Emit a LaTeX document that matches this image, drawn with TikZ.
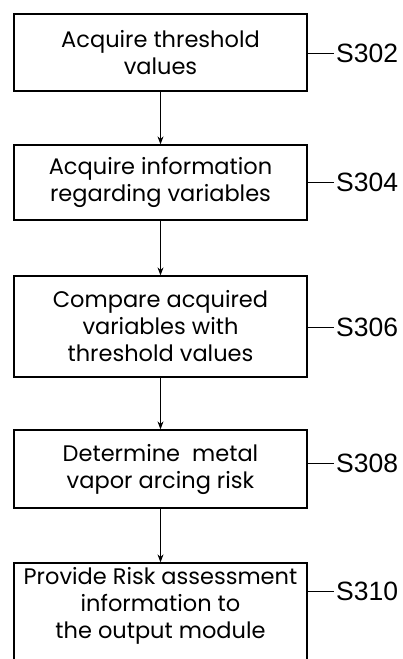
\documentclass[tikz,border=0pt]{standalone}
\usepackage{fontspec}
\setmainfont{Poppins}
\newfontfamily\labfont{Liberation Sans}
\usetikzlibrary{arrows.meta}
\begin{document}
\begin{tikzpicture}[x=1pt,y=1pt,
  stepbox/.style={draw, line width=1.3pt, minimum width=293pt, inner sep=0pt, align=center, font=\fontsize{22.5}{27}\selectfont},
  lab/.style={anchor=west, inner sep=2pt, font=\labfont\fontsize{26.5}{30}\selectfont},
  conn/.style={line width=1pt, -{Stealth[length=8pt,width=6pt]}},
  lead/.style={line width=1pt}]
\useasboundingbox[fill=white] (0,0) rectangle (403,-659);
\node[stepbox, minimum height=77pt] (b1) at (160.5,-52.5) {Acquire threshold\\values};
\node[stepbox, minimum height=75pt] (b2) at (160.5,-182.5) {Acquire information\\regarding variables};
\node[stepbox, minimum height=101pt] (b3) at (160.5,-326.5) {Compare acquired\\variables with\\threshold values};
\node[stepbox, minimum height=78pt] (b4) at (160.5,-469) {Determine~ metal\\vapor arcing risk};
\node[stepbox, minimum height=120pt] (b5) at (160.5,-623) {Provide Risk assessment\\information to\\the output module\\[13pt]\mbox{}};
\draw[conn] (b1) -- (b2);
\draw[conn] (b2) -- (b3);
\draw[conn] (b3) -- (b4);
\draw[conn] (b4) -- (b5);
\node[lab] (l1) at (334,-53) {S302};
\node[lab] (l2) at (334,-182) {S304};
\node[lab] (l3) at (334,-327) {S306};
\node[lab] (l4) at (334,-463) {S308};
\node[lab] (l5) at (334,-591) {S310};
\draw[lead] (b1.east |- l1.west) -- (l1.west);
\draw[lead] (b2.east |- l2.west) -- (l2.west);
\draw[lead] (b3.east |- l3.west) -- (l3.west);
\draw[lead] (b4.east |- l4.west) -- (l4.west);
\draw[lead] (b5.east |- l5.west) -- (l5.west);
\end{tikzpicture}
\end{document}
